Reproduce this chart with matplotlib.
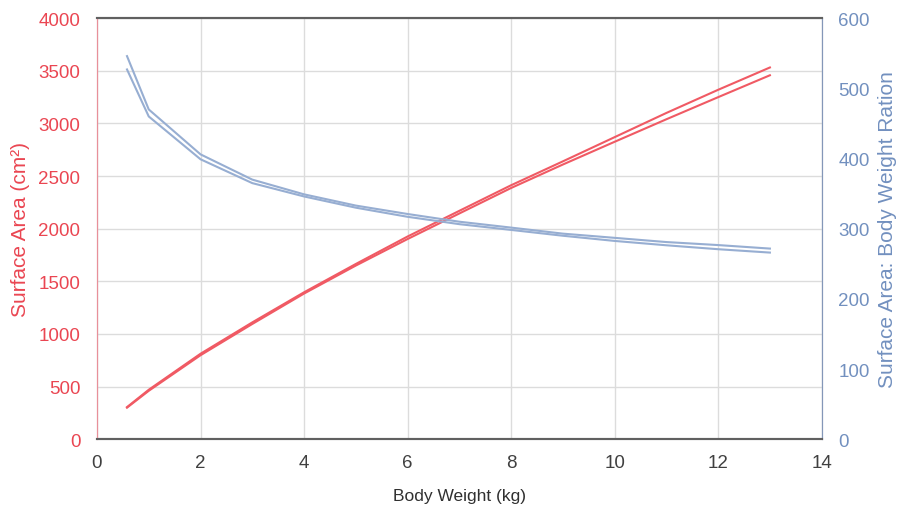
import matplotlib.pyplot as plt

plt.rcParams['font.family'] = ['Liberation Sans', 'DejaVu Sans']

# body weight (kg)
weight = [0.58, 1, 2, 3, 4, 5, 6, 7, 8, 9, 10, 11, 12, 13]

# surface area (cm2), two estimates
area_a = [305, 470, 812, 1110, 1396, 1665, 1926, 2170, 2413, 2640, 2870, 3100, 3320, 3532]
area_b = [300, 460, 798, 1095, 1384, 1650, 1902, 2145, 2387, 2610, 2826, 3040, 3250, 3458]

# surface area : body weight ratio
ratio_a = [546, 470, 406, 370, 349, 333, 321, 310, 301.6, 293, 287, 281, 276.7, 271.7]
ratio_b = [527, 460, 399, 365, 346, 330, 317, 306.5, 298.3, 290, 282.6, 276.4, 270.8, 266]

red = '#f05a64'
blue = '#97aed2'
red_txt = '#ea4652'
blue_txt = '#7290bf'

fig, ax = plt.subplots(figsize=(8.98, 5.06), dpi=100)
fig.subplots_adjust(left=0.108, right=0.915, top=0.962, bottom=0.13)
ax2 = ax.twinx()

ax.plot(weight, area_a, color=red, lw=1.5)
ax.plot(weight, area_b, color=red, lw=1.5)
ax2.plot(weight, ratio_a, color=blue, lw=1.5)
ax2.plot(weight, ratio_b, color=blue, lw=1.5)

ax.set_xlim(0, 14)
ax.set_ylim(0, 4000)
ax2.set_ylim(0, 600)
ax.set_xticks(range(0, 15, 2))
ax.set_yticks(range(0, 4001, 500))
ax2.set_yticks(range(0, 601, 100))

ax.grid(True, color='#dcdcdc', lw=1)
ax.set_axisbelow(True)

ax.tick_params(axis='x', length=0, pad=11, labelsize=13.5, labelcolor='#404040')
ax.tick_params(axis='y', length=0, pad=12, labelsize=13.5, labelcolor=red_txt)
ax2.tick_params(axis='y', length=0, pad=12, labelsize=13.5, labelcolor=blue_txt)

ax.set_xlabel('Body Weight (kg)', fontsize=12.5, color='#303030', labelpad=12)
ax.set_ylabel('Surface Area (cm²)', fontsize=15, color=red_txt, labelpad=6)
ax2.set_ylabel('Surface Area: Body Weight Ration', fontsize=15, color=blue_txt, labelpad=6)

for a in (ax, ax2):
    a.spines['top'].set_color('#606060')
    a.spines['bottom'].set_color('#606060')
    a.spines['top'].set_linewidth(1.5)
    a.spines['bottom'].set_linewidth(1.5)
    a.spines['left'].set_color('#e8909a')
    a.spines['right'].set_color('#8497b8')

plt.savefig('out.png', dpi=100)
